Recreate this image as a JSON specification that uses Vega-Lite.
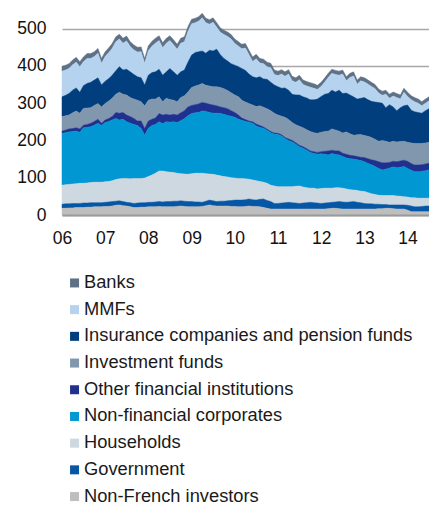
{
  "$schema": "https://vega.github.io/schema/vega-lite/v6.json",
  "width": 367,
  "height": 205,
  "autosize": {"type": "none"},
  "padding": {"left": 62, "top": 10, "right": 0, "bottom": 290},
  "background": "white",
  "config": {
    "view": {"stroke": null},
    "font": "Liberation Sans"
  },
  "datasets": {
    "names": [
      {"k": "bk", "name": "Banks", "ord": 9},
      {"k": "mmf", "name": "MMFs", "ord": 8},
      {"k": "ins", "name": "Insurance companies and pension funds", "ord": 7},
      {"k": "inv", "name": "Investment funds", "ord": 6},
      {"k": "ofi", "name": "Other financial institutions", "ord": 5},
      {"k": "nfc", "name": "Non-financial corporates", "ord": 4},
      {"k": "hh", "name": "Households", "ord": 3},
      {"k": "gov", "name": "Government", "ord": 2},
      {"k": "nf", "name": "Non-French investors", "ord": 1}
    ]
  },
  "data": {"values": [
    {"d":"2006-01-01","nf":18,"gov":11,"hh":51,"nfc":139,"ofi":6,"inv":39,"ins":53,"mmf":69,"bk":13},
    {"d":"2006-02-01","nf":18,"gov":12,"hh":51,"nfc":140,"ofi":7,"inv":38,"ins":55,"mmf":68,"bk":13},
    {"d":"2006-03-01","nf":19,"gov":11,"hh":52,"nfc":141,"ofi":8,"inv":37,"ins":58,"mmf":67,"bk":13},
    {"d":"2006-04-01","nf":19,"gov":12,"hh":52,"nfc":141,"ofi":8,"inv":42,"ins":61,"mmf":68,"bk":13},
    {"d":"2006-05-01","nf":20,"gov":11,"hh":53,"nfc":141,"ofi":9,"inv":45,"ins":62,"mmf":69,"bk":13},
    {"d":"2006-06-01","nf":20,"gov":11,"hh":54,"nfc":137,"ofi":9,"inv":42,"ins":56,"mmf":69,"bk":13},
    {"d":"2006-07-01","nf":20,"gov":12,"hh":53,"nfc":149,"ofi":7,"inv":45,"ins":61,"mmf":64,"bk":13},
    {"d":"2006-08-01","nf":21,"gov":11,"hh":54,"nfc":149,"ofi":8,"inv":44,"ins":66,"mmf":67,"bk":13},
    {"d":"2006-09-01","nf":21,"gov":12,"hh":54,"nfc":150,"ofi":9,"inv":42,"ins":68,"mmf":64,"bk":13},
    {"d":"2006-10-01","nf":22,"gov":11,"hh":55,"nfc":153,"ofi":10,"inv":43,"ins":68,"mmf":63,"bk":13},
    {"d":"2006-11-01","nf":22,"gov":11,"hh":55,"nfc":158,"ofi":11,"inv":42,"ins":69,"mmf":66,"bk":13},
    {"d":"2006-12-01","nf":22,"gov":11,"hh":55,"nfc":152,"ofi":6,"inv":44,"ins":59,"mmf":58,"bk":13},
    {"d":"2007-01-01","nf":23,"gov":11,"hh":55,"nfc":159,"ofi":7,"inv":44,"ins":60,"mmf":66,"bk":13},
    {"d":"2007-02-01","nf":23,"gov":12,"hh":55,"nfc":161,"ofi":8,"inv":47,"ins":60,"mmf":70,"bk":13},
    {"d":"2007-03-01","nf":24,"gov":12,"hh":56,"nfc":163,"ofi":9,"inv":49,"ins":62,"mmf":72,"bk":13},
    {"d":"2007-04-01","nf":26,"gov":11,"hh":58,"nfc":164,"ofi":16,"inv":49,"ins":63,"mmf":78,"bk":13},
    {"d":"2007-05-01","nf":27,"gov":11,"hh":59,"nfc":158,"ofi":18,"inv":56,"ins":69,"mmf":74,"bk":13},
    {"d":"2007-06-01","nf":25,"gov":11,"hh":62,"nfc":159,"ofi":18,"inv":49,"ins":65,"mmf":72,"bk":13},
    {"d":"2007-07-01","nf":24,"gov":10,"hh":64,"nfc":152,"ofi":18,"inv":54,"ins":69,"mmf":76,"bk":13},
    {"d":"2007-08-01","nf":22,"gov":11,"hh":64,"nfc":149,"ofi":18,"inv":51,"ins":69,"mmf":68,"bk":13},
    {"d":"2007-09-01","nf":20,"gov":11,"hh":67,"nfc":145,"ofi":16,"inv":52,"ins":66,"mmf":66,"bk":13},
    {"d":"2007-10-01","nf":20,"gov":12,"hh":66,"nfc":142,"ofi":12,"inv":56,"ins":63,"mmf":66,"bk":13},
    {"d":"2007-11-01","nf":21,"gov":12,"hh":65,"nfc":134,"ofi":20,"inv":52,"ins":64,"mmf":70,"bk":13},
    {"d":"2007-12-01","nf":21,"gov":12,"hh":66,"nfc":115,"ofi":18,"inv":61,"ins":56,"mmf":58,"bk":13},
    {"d":"2008-01-01","nf":22,"gov":12,"hh":69,"nfc":130,"ofi":19,"inv":56,"ins":67,"mmf":66,"bk":13},
    {"d":"2008-02-01","nf":22,"gov":12,"hh":73,"nfc":133,"ofi":17,"inv":54,"ins":71,"mmf":71,"bk":13},
    {"d":"2008-03-01","nf":22,"gov":13,"hh":77,"nfc":131,"ofi":17,"inv":51,"ins":73,"mmf":77,"bk":13},
    {"d":"2008-04-01","nf":23,"gov":13,"hh":82,"nfc":132,"ofi":22,"inv":45,"ins":74,"mmf":77,"bk":13},
    {"d":"2008-05-01","nf":22,"gov":13,"hh":83,"nfc":127,"ofi":23,"inv":36,"ins":71,"mmf":74,"bk":13},
    {"d":"2008-06-01","nf":22,"gov":14,"hh":80,"nfc":134,"ofi":20,"inv":43,"ins":71,"mmf":77,"bk":13},
    {"d":"2008-07-01","nf":22,"gov":14,"hh":79,"nfc":134,"ofi":19,"inv":42,"ins":83,"mmf":75,"bk":13},
    {"d":"2008-08-01","nf":22,"gov":15,"hh":77,"nfc":136,"ofi":20,"inv":38,"ins":76,"mmf":73,"bk":13},
    {"d":"2008-09-01","nf":23,"gov":14,"hh":75,"nfc":136,"ofi":20,"inv":36,"ins":71,"mmf":70,"bk":13},
    {"d":"2008-10-01","nf":24,"gov":14,"hh":73,"nfc":142,"ofi":21,"inv":41,"ins":69,"mmf":77,"bk":13},
    {"d":"2008-11-01","nf":23,"gov":14,"hh":73,"nfc":148,"ofi":22,"inv":40,"ins":69,"mmf":76,"bk":13},
    {"d":"2008-12-01","nf":22,"gov":14,"hh":73,"nfc":157,"ofi":24,"inv":40,"ins":80,"mmf":82,"bk":13},
    {"d":"2009-01-01","nf":22,"gov":14,"hh":75,"nfc":161,"ofi":22,"inv":48,"ins":87,"mmf":84,"bk":12},
    {"d":"2009-02-01","nf":22,"gov":13,"hh":77,"nfc":162,"ofi":22,"inv":50,"ins":90,"mmf":80,"bk":12},
    {"d":"2009-03-01","nf":22,"gov":13,"hh":77,"nfc":163,"ofi":23,"inv":51,"ins":89,"mmf":82,"bk":12},
    {"d":"2009-04-01","nf":23,"gov":11,"hh":78,"nfc":167,"ofi":23,"inv":51,"ins":87,"mmf":89,"bk":12},
    {"d":"2009-05-01","nf":25,"gov":12,"hh":74,"nfc":167,"ofi":22,"inv":48,"ins":86,"mmf":82,"bk":12},
    {"d":"2009-06-01","nf":27,"gov":13,"hh":70,"nfc":165,"ofi":22,"inv":49,"ins":96,"mmf":70,"bk":12},
    {"d":"2009-07-01","nf":25,"gov":13,"hh":71,"nfc":164,"ofi":22,"inv":49,"ins":96,"mmf":77,"bk":12},
    {"d":"2009-08-01","nf":24,"gov":12,"hh":71,"nfc":166,"ofi":20,"inv":51,"ins":101,"mmf":59,"bk":12},
    {"d":"2009-09-01","nf":24,"gov":13,"hh":68,"nfc":167,"ofi":18,"inv":52,"ins":88,"mmf":60,"bk":12},
    {"d":"2009-10-01","nf":24,"gov":13,"hh":66,"nfc":167,"ofi":18,"inv":51,"ins":81,"mmf":64,"bk":12},
    {"d":"2009-11-01","nf":24,"gov":14,"hh":64,"nfc":165,"ofi":18,"inv":49,"ins":79,"mmf":66,"bk":12},
    {"d":"2009-12-01","nf":23,"gov":16,"hh":61,"nfc":165,"ofi":15,"inv":48,"ins":78,"mmf":66,"bk":12},
    {"d":"2010-01-01","nf":23,"gov":17,"hh":59,"nfc":163,"ofi":13,"inv":47,"ins":80,"mmf":58,"bk":12},
    {"d":"2010-02-01","nf":22,"gov":18,"hh":58,"nfc":159,"ofi":11,"inv":49,"ins":81,"mmf":55,"bk":12},
    {"d":"2010-03-01","nf":22,"gov":18,"hh":58,"nfc":156,"ofi":6,"inv":48,"ins":85,"mmf":53,"bk":12},
    {"d":"2010-04-01","nf":23,"gov":18,"hh":56,"nfc":154,"ofi":5,"inv":47,"ins":85,"mmf":60,"bk":12},
    {"d":"2010-05-01","nf":24,"gov":19,"hh":53,"nfc":153,"ofi":3,"inv":47,"ins":79,"mmf":52,"bk":12},
    {"d":"2010-06-01","nf":23,"gov":18,"hh":53,"nfc":152,"ofi":4,"inv":45,"ins":76,"mmf":41,"bk":12},
    {"d":"2010-07-01","nf":23,"gov":17,"hh":52,"nfc":147,"ofi":5,"inv":47,"ins":77,"mmf":51,"bk":12},
    {"d":"2010-08-01","nf":22,"gov":20,"hh":48,"nfc":145,"ofi":5,"inv":53,"ins":78,"mmf":37,"bk":12},
    {"d":"2010-09-01","nf":20,"gov":23,"hh":45,"nfc":145,"ofi":3,"inv":53,"ins":76,"mmf":41,"bk":12},
    {"d":"2010-10-01","nf":18,"gov":21,"hh":46,"nfc":142,"ofi":3,"inv":55,"ins":79,"mmf":34,"bk":12},
    {"d":"2010-11-01","nf":16,"gov":20,"hh":44,"nfc":141,"ofi":3,"inv":56,"ins":76,"mmf":39,"bk":12},
    {"d":"2010-12-01","nf":16,"gov":15,"hh":47,"nfc":139,"ofi":3,"inv":53,"ins":76,"mmf":28,"bk":12},
    {"d":"2011-01-01","nf":16,"gov":15,"hh":45,"nfc":140,"ofi":3,"inv":49,"ins":76,"mmf":30,"bk":12},
    {"d":"2011-02-01","nf":16,"gov":16,"hh":44,"nfc":136,"ofi":3,"inv":50,"ins":75,"mmf":38,"bk":12},
    {"d":"2011-03-01","nf":16,"gov":17,"hh":43,"nfc":129,"ofi":3,"inv":54,"ins":79,"mmf":31,"bk":12},
    {"d":"2011-04-01","nf":16,"gov":18,"hh":42,"nfc":124,"ofi":4,"inv":52,"ins":79,"mmf":43,"bk":12},
    {"d":"2011-05-01","nf":16,"gov":17,"hh":43,"nfc":120,"ofi":4,"inv":48,"ins":76,"mmf":36,"bk":12},
    {"d":"2011-06-01","nf":16,"gov":16,"hh":45,"nfc":113,"ofi":4,"inv":48,"ins":80,"mmf":34,"bk":12},
    {"d":"2011-07-01","nf":16,"gov":15,"hh":47,"nfc":105,"ofi":4,"inv":51,"ins":84,"mmf":41,"bk":12},
    {"d":"2011-08-01","nf":16,"gov":16,"hh":43,"nfc":104,"ofi":4,"inv":51,"ins":83,"mmf":33,"bk":12},
    {"d":"2011-09-01","nf":16,"gov":17,"hh":40,"nfc":101,"ofi":4,"inv":51,"ins":85,"mmf":32,"bk":12},
    {"d":"2011-10-01","nf":16,"gov":18,"hh":38,"nfc":96,"ofi":4,"inv":52,"ins":85,"mmf":34,"bk":12},
    {"d":"2011-11-01","nf":16,"gov":17,"hh":39,"nfc":93,"ofi":5,"inv":51,"ins":88,"mmf":31,"bk":12},
    {"d":"2011-12-01","nf":16,"gov":16,"hh":38,"nfc":93,"ofi":5,"inv":51,"ins":92,"mmf":26,"bk":11},
    {"d":"2012-01-01","nf":16,"gov":15,"hh":40,"nfc":93,"ofi":6,"inv":52,"ins":96,"mmf":27,"bk":11},
    {"d":"2012-02-01","nf":16,"gov":16,"hh":40,"nfc":91,"ofi":8,"inv":53,"ins":100,"mmf":33,"bk":11},
    {"d":"2012-03-01","nf":17,"gov":16,"hh":39,"nfc":89,"ofi":11,"inv":53,"ins":101,"mmf":43,"bk":11},
    {"d":"2012-04-01","nf":18,"gov":16,"hh":38,"nfc":93,"ofi":9,"inv":57,"ins":104,"mmf":45,"bk":11},
    {"d":"2012-05-01","nf":18,"gov":17,"hh":38,"nfc":89,"ofi":10,"inv":56,"ins":102,"mmf":47,"bk":11},
    {"d":"2012-06-01","nf":17,"gov":19,"hh":37,"nfc":88,"ofi":11,"inv":53,"ins":110,"mmf":40,"bk":11},
    {"d":"2012-07-01","nf":16,"gov":19,"hh":37,"nfc":85,"ofi":9,"inv":54,"ins":106,"mmf":52,"bk":11},
    {"d":"2012-08-01","nf":16,"gov":18,"hh":36,"nfc":83,"ofi":10,"inv":60,"ins":104,"mmf":33,"bk":11},
    {"d":"2012-09-01","nf":16,"gov":19,"hh":33,"nfc":83,"ofi":9,"inv":58,"ins":104,"mmf":47,"bk":11},
    {"d":"2012-10-01","nf":16,"gov":20,"hh":31,"nfc":83,"ofi":9,"inv":55,"ins":103,"mmf":56,"bk":11},
    {"d":"2012-11-01","nf":16,"gov":18,"hh":32,"nfc":82,"ofi":9,"inv":58,"ins":96,"mmf":40,"bk":11},
    {"d":"2012-12-01","nf":16,"gov":17,"hh":31,"nfc":82,"ofi":9,"inv":61,"ins":97,"mmf":47,"bk":11},
    {"d":"2013-01-01","nf":16,"gov":15,"hh":32,"nfc":80,"ofi":11,"inv":59,"ins":102,"mmf":42,"bk":11},
    {"d":"2013-02-01","nf":16,"gov":14,"hh":30,"nfc":78,"ofi":13,"inv":60,"ins":98,"mmf":42,"bk":11},
    {"d":"2013-03-01","nf":16,"gov":14,"hh":27,"nfc":78,"ofi":13,"inv":60,"ins":97,"mmf":40,"bk":11},
    {"d":"2013-04-01","nf":16,"gov":13,"hh":26,"nfc":75,"ofi":16,"inv":57,"ins":100,"mmf":36,"bk":11},
    {"d":"2013-05-01","nf":17,"gov":12,"hh":24,"nfc":72,"ofi":18,"inv":55,"ins":104,"mmf":25,"bk":11},
    {"d":"2013-06-01","nf":17,"gov":11,"hh":24,"nfc":69,"ofi":19,"inv":60,"ins":100,"mmf":21,"bk":11},
    {"d":"2013-07-01","nf":18,"gov":10,"hh":24,"nfc":71,"ofi":17,"inv":58,"ins":90,"mmf":36,"bk":11},
    {"d":"2013-08-01","nf":18,"gov":9,"hh":25,"nfc":74,"ofi":15,"inv":54,"ins":101,"mmf":17,"bk":11},
    {"d":"2013-09-01","nf":17,"gov":10,"hh":25,"nfc":77,"ofi":15,"inv":54,"ins":92,"mmf":29,"bk":11},
    {"d":"2013-10-01","nf":16,"gov":11,"hh":24,"nfc":76,"ofi":16,"inv":53,"ins":84,"mmf":35,"bk":11},
    {"d":"2013-11-01","nf":16,"gov":11,"hh":23,"nfc":78,"ofi":17,"inv":52,"ins":91,"mmf":23,"bk":11},
    {"d":"2013-12-01","nf":16,"gov":11,"hh":22,"nfc":81,"ofi":17,"inv":51,"ins":95,"mmf":36,"bk":11},
    {"d":"2014-01-01","nf":13,"gov":13,"hh":22,"nfc":77,"ofi":19,"inv":51,"ins":100,"mmf":23,"bk":11},
    {"d":"2014-02-01","nf":9,"gov":15,"hh":22,"nfc":74,"ofi":18,"inv":55,"ins":88,"mmf":28,"bk":11},
    {"d":"2014-03-01","nf":9,"gov":13,"hh":24,"nfc":70,"ofi":18,"inv":58,"ins":85,"mmf":27,"bk":11},
    {"d":"2014-04-01","nf":9,"gov":13,"hh":23,"nfc":71,"ofi":18,"inv":58,"ins":83,"mmf":25,"bk":11},
    {"d":"2014-05-01","nf":9,"gov":14,"hh":22,"nfc":72,"ofi":18,"inv":57,"ins":81,"mmf":20,"bk":11},
    {"d":"2014-06-01","nf":9,"gov":15,"hh":21,"nfc":74,"ofi":18,"inv":56,"ins":87,"mmf":20,"bk":11},
    {"d":"2014-07-01","nf":9,"gov":15,"hh":21,"nfc":76,"ofi":18,"inv":56,"ins":90,"mmf":21,"bk":11}
  ]},
  "transform": [
    {"fold": ["bk", "mmf", "ins", "inv", "ofi", "nfc", "hh", "gov", "nf"], "as": ["k", "v"]},
    {"lookup": "k", "from": {"data": {"name": "names"}, "key": "k", "fields": ["name", "ord"]}}
  ],
  "mark": {"type": "area", "strokeWidth": 0.5, "interpolate": "linear"},
  "encoding": {
    "x": {
      "field": "d",
      "type": "temporal",
      "scale": {"type": "utc", "domain": [{"year": 2006, "month": 1, "date": 1, "utc": true}, {"year": 2014, "month": 7, "date": 1, "utc": true}]},
      "axis": {
        "title": null,
        "format": "%y",
        "values": [
          {"year": 2006, "month": 1, "date": 1, "utc": true},
          {"year": 2007, "month": 1, "date": 1, "utc": true},
          {"year": 2008, "month": 1, "date": 1, "utc": true},
          {"year": 2009, "month": 1, "date": 1, "utc": true},
          {"year": 2010, "month": 1, "date": 1, "utc": true},
          {"year": 2011, "month": 1, "date": 1, "utc": true},
          {"year": 2012, "month": 1, "date": 1, "utc": true},
          {"year": 2013, "month": 1, "date": 1, "utc": true},
          {"year": 2014, "month": 1, "date": 1, "utc": true}
        ],
        "ticks": false,
        "grid": false,
        "domain": true,
        "domainColor": "#9A9A9A",
        "domainWidth": 2,
        "labelFont": "Liberation Sans",
        "labelFontSize": 17.5,
        "labelColor": "#111111",
        "labelPadding": 14,
        "labelAlign": "center",
        "labelFlush": false,
        "labelOverlap": false,
        "zindex": 1
      }
    },
    "y": {
      "field": "v",
      "type": "quantitative",
      "stack": "zero",
      "scale": {"domain": [0, 550], "nice": false},
      "axis": {
        "title": null,
        "values": [0, 100, 200, 300, 400, 500],
        "ticks": false,
        "domain": false,
        "grid": true,
        "gridColor": "#A8A8A8",
        "gridWidth": 1.5,
        "labelFont": "Liberation Sans",
        "labelFontSize": 17.5,
        "labelColor": "#111111",
        "labelPadding": 16
      }
    },
    "color": {
      "field": "name",
      "type": "nominal",
      "scale": {
        "domain": ["Banks", "MMFs", "Insurance companies and pension funds", "Investment funds", "Other financial institutions", "Non-financial corporates", "Households", "Government", "Non-French investors"],
        "range": ["#5E7186", "#B5D3EF", "#003E7E", "#8097AD", "#20308F", "#0097D3", "#CED8E1", "#0656A6", "#BEBEBE"]
      },
      "legend": {
        "title": null,
        "orient": "none",
        "legendX": 3.4,
        "legendY": 263.8,
        "direction": "vertical",
        "symbolType": "square",
        "symbolSize": 81,
        "symbolStrokeWidth": 0,
        "labelFont": "Liberation Sans",
        "labelFontSize": 18.3,
        "labelColor": "#1A1A1A",
        "labelOffset": 0.3,
        "labelLimit": 400,
        "rowPadding": 7.7,
        "padding": 0
      }
    },
    "stroke": {
      "field": "name",
      "type": "nominal",
      "scale": {
        "domain": ["Banks", "MMFs", "Insurance companies and pension funds", "Investment funds", "Other financial institutions", "Non-financial corporates", "Households", "Government", "Non-French investors"],
        "range": ["#5E7186", "#B5D3EF", "#003E7E", "#8097AD", "#20308F", "#0097D3", "#CED8E1", "#0656A6", "#BEBEBE"]
      },
      "legend": null
    },
    "order": {"field": "ord", "type": "quantitative"}
  }
}
